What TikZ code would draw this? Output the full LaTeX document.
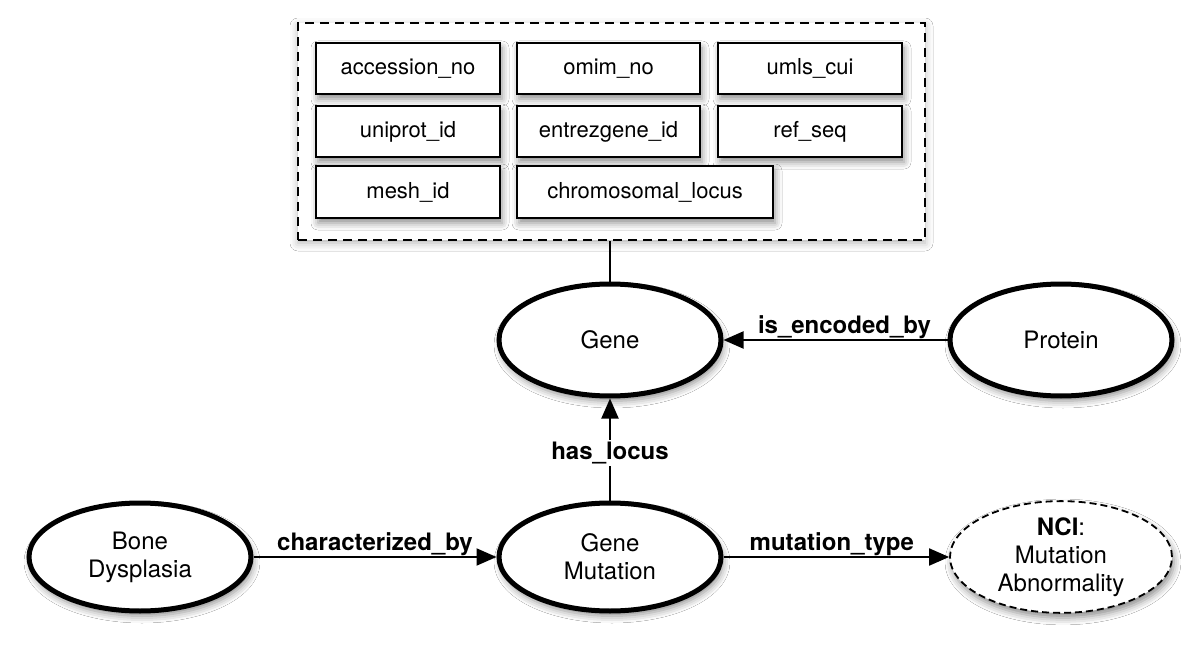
\documentclass[tikz,border=0pt]{standalone}
\usepackage{fontspec}
\setmainfont{TeX Gyre Heros}
\usetikzlibrary{shapes.geometric,arrows.meta,shadows.blur}
\begin{document}
\begin{tikzpicture}[x=1pt,y=-1pt,
  shad/.style={blur shadow={shadow xshift=2pt,shadow yshift=-5pt,shadow blur radius=7pt,shadow opacity=45}},
  attrbox/.style={draw,line width=2.6pt,fill=white,rectangle,inner sep=0pt,minimum height=51,shad,
     font=\fontsize{22}{26}\selectfont},
  outerbox/.style={draw,line width=1.8pt,dash pattern=on 9pt off 6pt,fill=white,rectangle,inner sep=0pt,
     blur shadow={shadow xshift=0pt,shadow yshift=-3pt,shadow blur radius=8pt,shadow opacity=30}},
  concept/.style={draw,ellipse,line width=5pt,fill=white,inner sep=0pt,shad,align=center,
     minimum width=222,minimum height=108,font=\fontsize{24}{28}\selectfont},
  extconcept/.style={draw,ellipse,line width=1.8pt,dash pattern=on 7pt off 4pt,fill=white,inner sep=0pt,shad,align=center,
     minimum width=222,minimum height=108,font=\fontsize{24}{28}\selectfont},
  rel/.style={line width=2pt,-{Triangle[length=20pt,width=17pt]}},
  lab/.style={font=\fontsize{24}{28}\selectfont\bfseries,inner sep=2pt},
  link/.style={line width=2pt}]
\useasboundingbox (0,0) rectangle (1200,650);
\fill[white] (0,0) rectangle (1200,650);

% attribute container
\node[outerbox,minimum width=627,minimum height=217] (attrs) at (611.5,131.5) {};
\node[attrbox,minimum width=184] (acc) at (408,68.5) {accession\_no};
\node[attrbox,minimum width=183] (omim) at (608.5,68.5) {omim\_no};
\node[attrbox,minimum width=184] (umls) at (810,68.5) {umls\_cui};
\node[attrbox,minimum width=184] (unip) at (408,131.5) {uniprot\_id};
\node[attrbox,minimum width=183] (entr) at (608.5,131.5) {entrezgene\_id};
\node[attrbox,minimum width=184] (refs) at (810,131.5) {ref\_seq};
\node[attrbox,minimum width=184,minimum height=52] (mesh) at (408,192) {mesh\_id};
\node[attrbox,minimum width=256,minimum height=52] (chrom) at (645,192) {chromosomal\_locus};

% concepts
\node[concept,minimum width=222,minimum height=112] (gene) at (610,340) {Gene};
\node[concept,minimum width=222,minimum height=112] (prot) at (1061,340) {Protein};
\node[concept] (bone) at (140,557) {Bone\\Dysplasia};
\node[concept] (gmut) at (610,557) {Gene\\Mutation};
\node[extconcept] (nci) at (1061,557) {\textbf{NCI}:\\Mutation\\Abnormality};

% connectors
\draw[link] (gene.north) -- (gene.north |- attrs.south);
\draw[rel] (prot.west) -- node[lab,pos=0.46,anchor=south,yshift=-2pt] {is\_encoded\_by} (gene.east);
\draw[rel] (gmut.north) -- node[lab,pos=0.47,fill=white] {has\_locus} (gene.south);
\draw[rel] (bone.east) -- node[lab,pos=0.5,anchor=south,yshift=-2pt] {characterized\_by} (gmut.west);
\draw[rel] (gmut.east) -- node[lab,pos=0.48,anchor=south,yshift=-2pt] {mutation\_type} (nci.west);
\end{tikzpicture}
\end{document}
